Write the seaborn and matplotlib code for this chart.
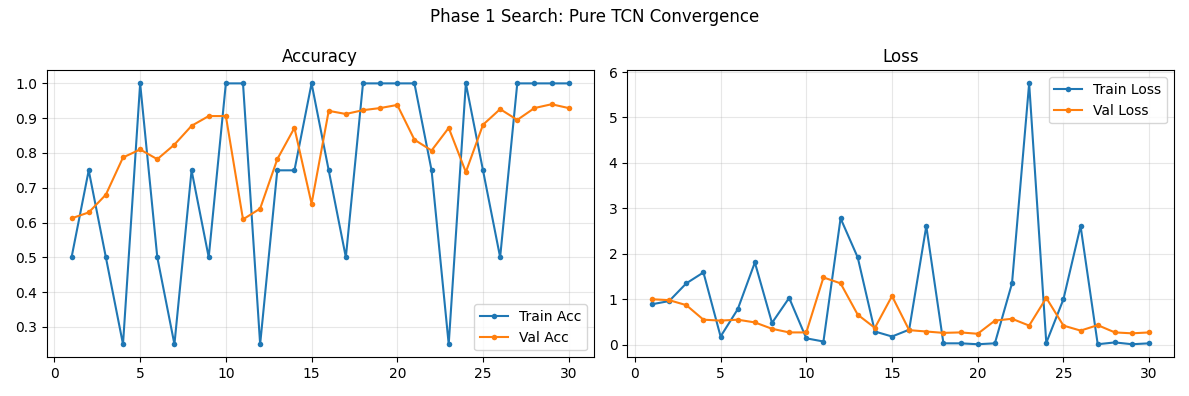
import numpy as np
import pandas as pd
import matplotlib
matplotlib.use('Agg')
import matplotlib.pyplot as plt
import seaborn as sns

epochs = list(range(1, 31))
train_acc = [0.5, 0.75, 0.5, 0.25, 1.0, 0.5, 0.25, 0.75, 0.5, 1.0,
             1.0, 0.25, 0.75, 0.75, 1.0, 0.75, 0.5, 1.0, 1.0, 1.0,
             1.0, 0.75, 0.25, 1.0, 0.75, 0.5, 1.0, 1.0, 1.0, 1.0]
val_acc = [0.612, 0.629, 0.680, 0.787, 0.810, 0.782, 0.824, 0.878, 0.906, 0.906,
           0.609, 0.640, 0.782, 0.872, 0.654, 0.921, 0.912, 0.923, 0.929, 0.938,
           0.838, 0.807, 0.872, 0.745, 0.881, 0.926, 0.895, 0.929, 0.940, 0.929]
train_loss = [0.89, 0.96, 1.35, 1.59, 0.18, 0.78, 1.81, 0.48, 1.03, 0.14,
              0.07, 2.78, 1.92, 0.29, 0.18, 0.33, 2.61, 0.03, 0.03, 0.01,
              0.03, 1.35, 5.75, 0.04, 1.00, 2.61, 0.01, 0.05, 0.01, 0.03]
val_loss = [1.00, 0.98, 0.87, 0.55, 0.53, 0.55, 0.49, 0.35, 0.27, 0.27,
            1.48, 1.35, 0.66, 0.37, 1.07, 0.32, 0.29, 0.26, 0.27, 0.24,
            0.53, 0.57, 0.42, 1.03, 0.42, 0.31, 0.43, 0.27, 0.25, 0.27]

df = pd.DataFrame({'epoch': epochs, 'train_acc': train_acc, 'val_acc': val_acc,
                   'train_loss': train_loss, 'val_loss': val_loss})

fig, axes = plt.subplots(1, 2, figsize=(11.89, 3.96), dpi=100)

# accuracy
sns.lineplot(data=df, x='epoch', y='train_acc', ax=axes[0], marker='o', markersize=4,
             markeredgewidth=0, label='Train Acc', color='#1f77b4')
sns.lineplot(data=df, x='epoch', y='val_acc', ax=axes[0], marker='o', markersize=4,
             markeredgewidth=0, label='Val Acc', color='#ff7f0e')
axes[0].set_title('Accuracy')
axes[0].legend(loc='lower right')

# loss
sns.lineplot(data=df, x='epoch', y='train_loss', ax=axes[1], marker='o', markersize=4,
             markeredgewidth=0, label='Train Loss', color='#1f77b4')
sns.lineplot(data=df, x='epoch', y='val_loss', ax=axes[1], marker='o', markersize=4,
             markeredgewidth=0, label='Val Loss', color='#ff7f0e')
axes[1].set_title('Loss')
axes[1].legend(loc='upper right')

for ax in axes:
    ax.set_xlabel('')
    ax.set_ylabel('')
    ax.grid(True, alpha=0.3)

fig.suptitle('Phase 1 Search: Pure TCN Convergence')
plt.tight_layout()
plt.savefig('out.png')
